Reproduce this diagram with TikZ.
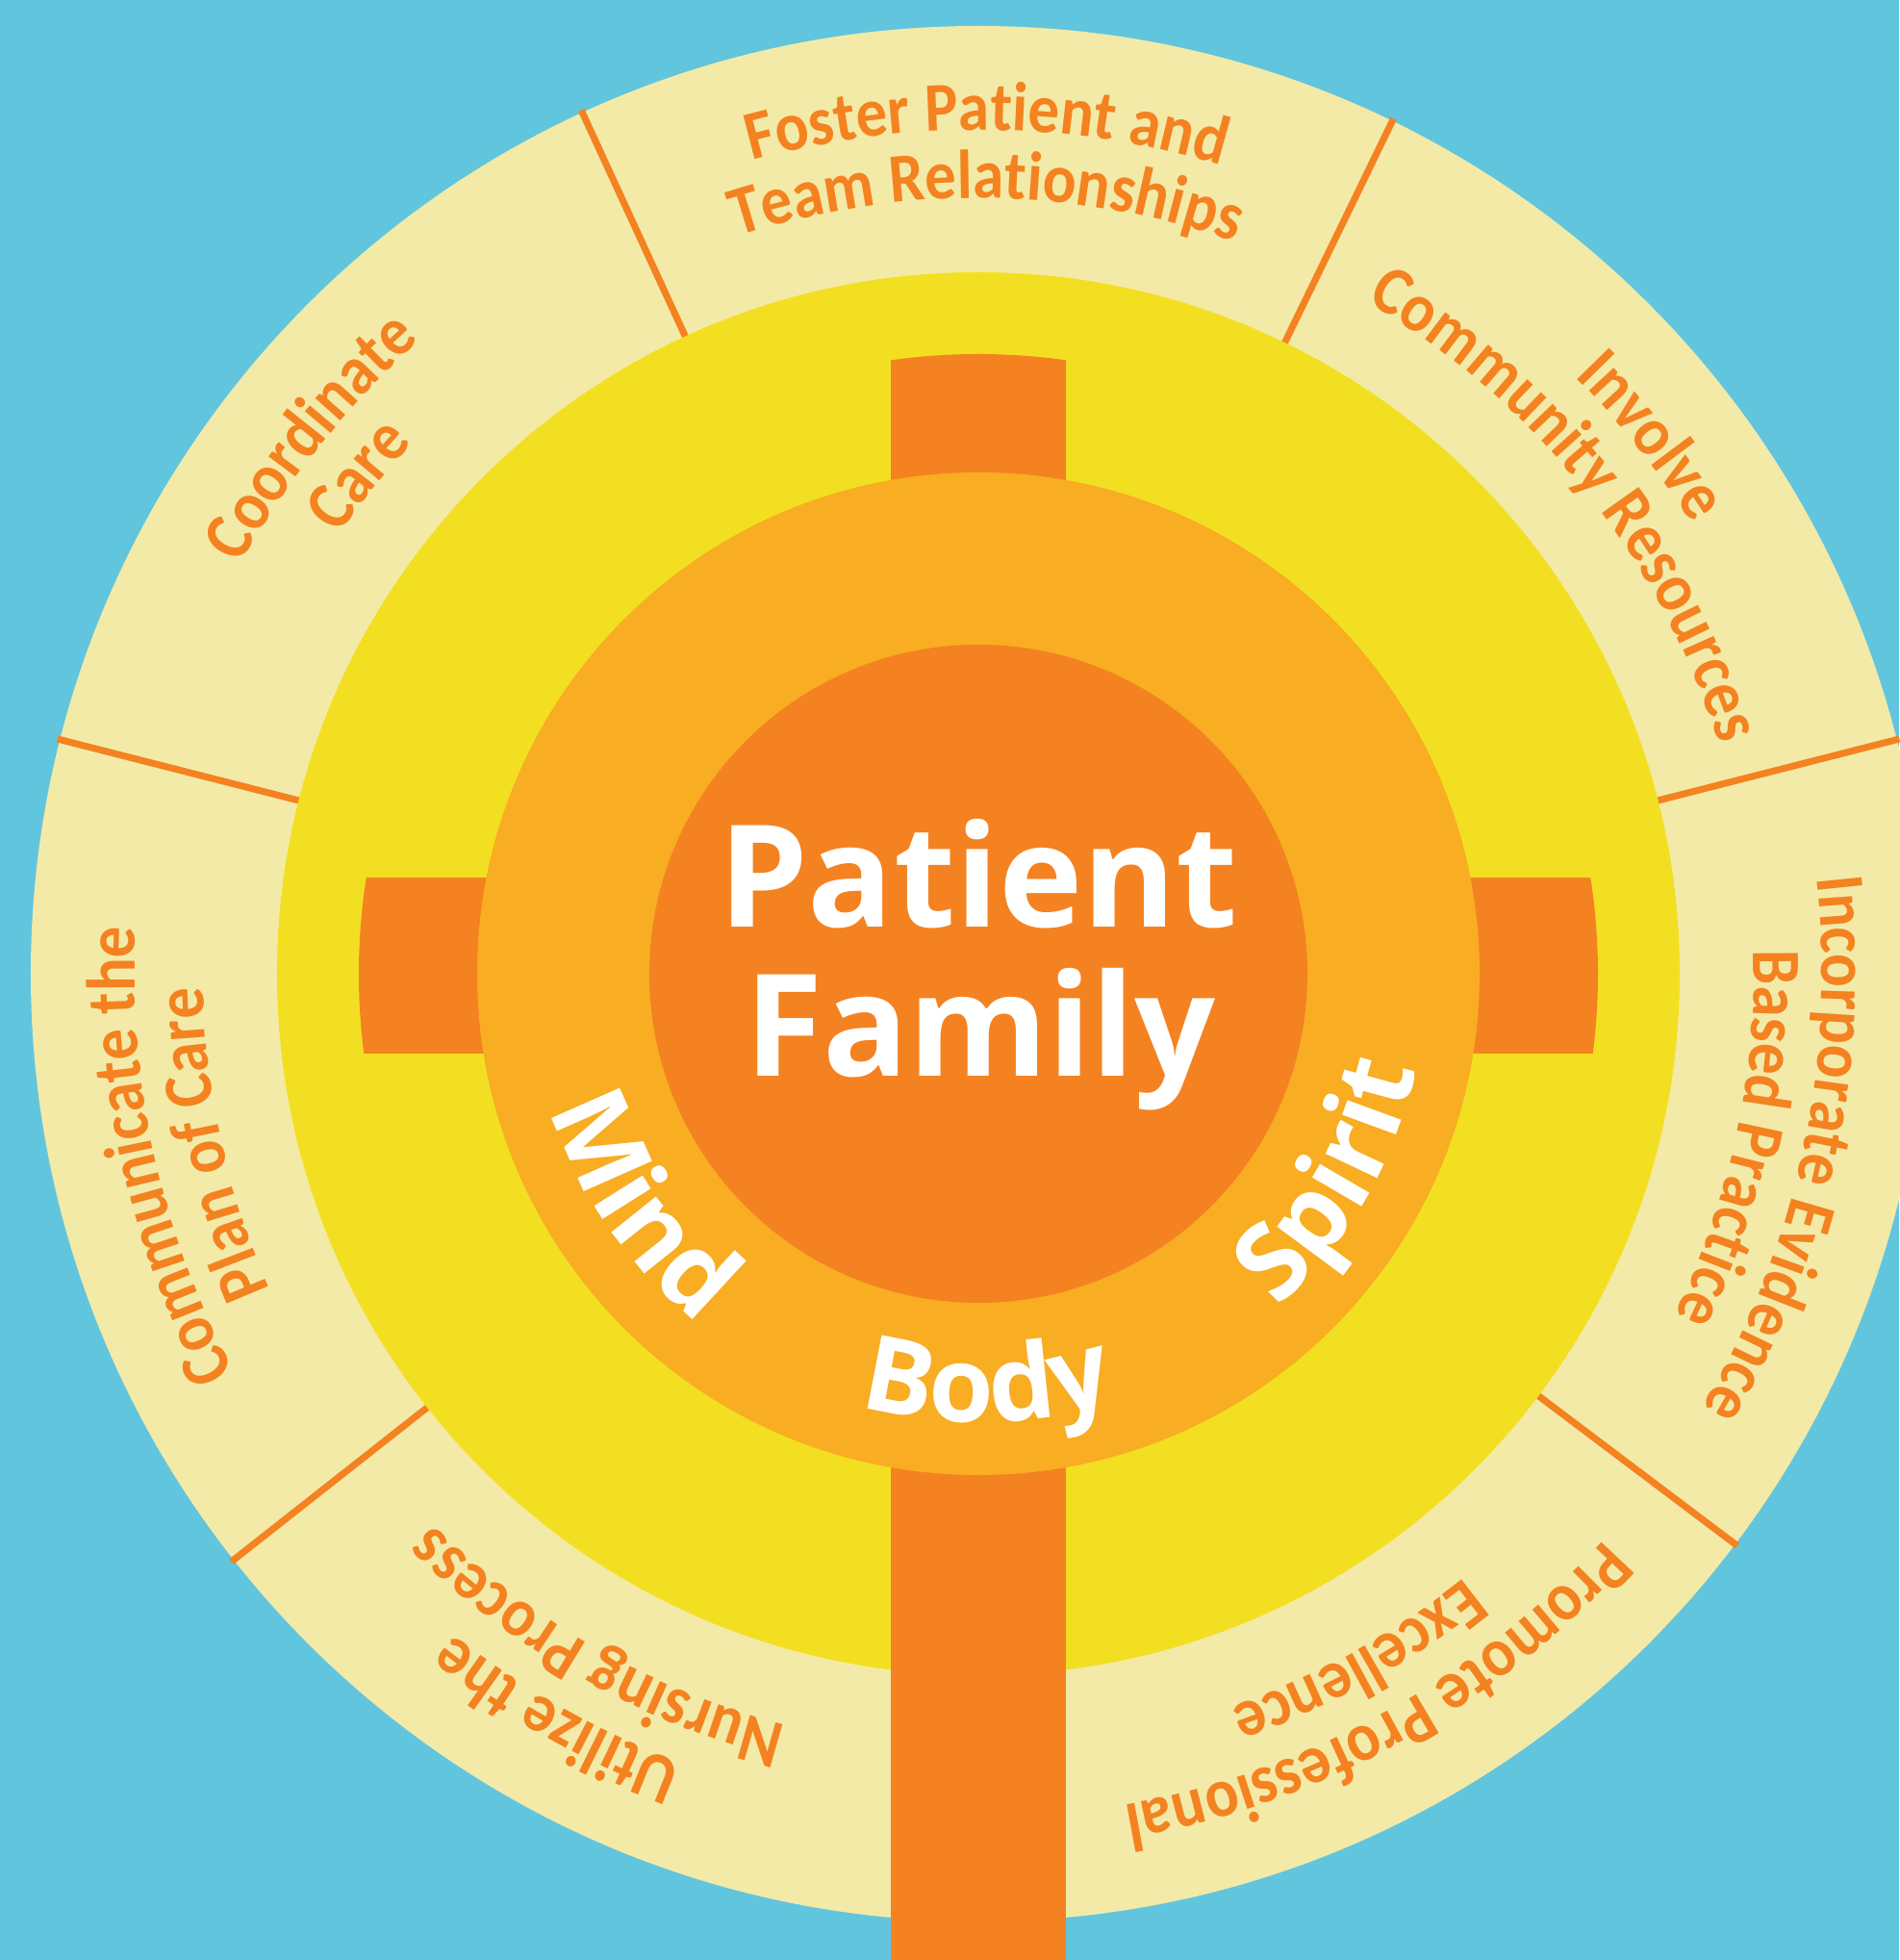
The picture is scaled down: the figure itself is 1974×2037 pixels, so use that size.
\documentclass[tikz,border=0pt]{standalone}
\usepackage{fontspec}
\usetikzlibrary{decorations.text}
\newfontfamily\osfont{Open Sans}
\newfontfamily\cbfont{Carlito}[FakeStretch=0.9]
\definecolor{bgblue}{HTML}{62C5DE}
\definecolor{pale}{HTML}{F3EAA7}
\definecolor{sunyellow}{HTML}{F3DF21}
\definecolor{amber}{HTML}{F8AD22}
\definecolor{deeporange}{HTML}{F48221}
\newcommand\centerfont{\osfont\bfseries\fontsize{42}{46}\selectfont}
\newcommand\ringfont{\osfont\bfseries\fontsize{31}{34}\selectfont}
\newcommand\outerfont{\cbfont\bfseries\fontsize{20.5}{24}\selectfont}
\newcommand\outerline[3]{%
  \path[outerlabel={#3}] ({#1+40}:#2) arc[start angle={#1+40}, end angle={#1-40}, radius=#2];}
\newcommand\ringline[2]{%
  \path[ringlabel={#2}] ({#1-35}:466) arc[start angle={#1-35}, end angle={#1+35}, radius=466];}
\begin{document}
\begin{tikzpicture}[x=0.01cm,y=0.01cm,
  divider/.style={draw=deeporange,line width=2pt},
  outerlabel/.style={decorate,decoration={text along path,text align=center,text color=deeporange,text={|\outerfont|#1}}},
  ringlabel/.style={decorate,decoration={text along path,text align=center,text color=white,text={|\ringfont|#1}}},
  centerlabel/.style={anchor=base,text=white,font=\centerfont,inner sep=0pt}
]
% background and bounding box
\fill[bgblue] (-1017,-1025) rectangle (957,1012);
\useasboundingbox (-1017,-1025) rectangle (957,1012);
% outer pale ring
\fill[pale] (0,0) circle[radius=985];
\foreach \a in {14.3,64.1,114.7,165.7,218.2,323.0}
  \draw[divider] (\a:729) -- (\a:988);
% yellow disc
\fill[sunyellow] (0,0) circle[radius=729];
% cross
\begin{scope}
  \clip (0,0) circle[radius=644];
  \fill[deeporange] (-91,-700) rectangle (91,700);
  \fill[deeporange] (-700,-83) rectangle (700,100);
\end{scope}
\fill[deeporange] (-91,-1030) rectangle (91,0);
% amber ring and inner disc
\fill[amber] (0,0) circle[radius=521];
\fill[deeporange] (0,0) circle[radius=342];
% centre text
\node[centerlabel] (patient) at (0,48) {Patient};
\node[centerlabel] (family) at (2,-107) {Family};
% ring words
\ringline{-145.5}{Mind}
\ringline{-88.8}{Body}
\ringline{-30.2}{Spirit}
% outer texts
\outerline{89.4}{877}{Foster Patient and}
\outerline{89.4}{806}{Team Relationships}
\outerline{141.2}{877}{Coordinate}
\outerline{141.2}{806}{Care}
\outerline{192.5}{877}{Communicate the}
\outerline{192.5}{806}{Plan of Care}
\outerline{240.5}{877}{Utilize the}
\outerline{240.5}{806}{Nursing Process}
\outerline{298.9}{877}{Promote Professional}
\outerline{298.9}{806}{Excellence}
\outerline{347.8}{877}{Incorporate Evidence}
\outerline{347.8}{806}{Based Practice}
\outerline{38.6}{877}{Involve}
\outerline{38.6}{806}{Community Resources}
\end{tikzpicture}
\end{document}
